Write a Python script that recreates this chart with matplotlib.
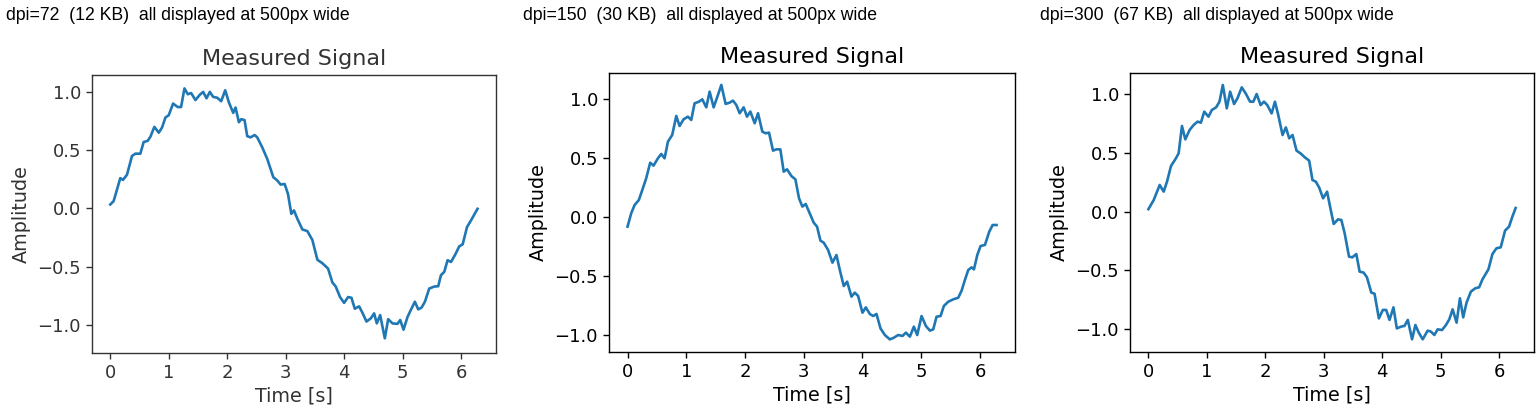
import matplotlib
matplotlib.use("Agg")
import matplotlib.pyplot as plt

# values (same signal saved at three dpi settings)
t_72 = [0.0, 0.057, 0.171, 0.217, 0.286, 0.371, 0.429, 0.514, 0.571, 0.64, 0.686, 0.754, 0.829, 0.886,
        0.943, 1.0, 1.074, 1.154, 1.211, 1.269, 1.326, 1.383, 1.457, 1.531, 1.589, 1.646, 1.703, 1.76,
        1.829, 1.897, 1.966, 2.029, 2.103, 2.143, 2.2, 2.24, 2.297, 2.343, 2.4, 2.469, 2.514, 2.6, 2.686,
        2.789, 2.857, 2.914, 2.983, 3.04, 3.097, 3.143, 3.2, 3.286, 3.371, 3.457, 3.543, 3.629, 3.726,
        3.8, 3.857, 3.931, 4.0, 4.069, 4.126, 4.183, 4.257, 4.314, 4.383, 4.457, 4.514, 4.56, 4.617,
        4.697, 4.754, 4.829, 4.914, 4.96, 5.017, 5.086, 5.143, 5.211, 5.269, 5.326, 5.383, 5.457, 5.543,
        5.611, 5.657, 5.714, 5.771, 5.829, 5.897, 5.971, 6.029, 6.103, 6.171, 6.283]
amp_72 = [0.034, 0.063, 0.26, 0.245, 0.29, 0.45, 0.47, 0.47, 0.57, 0.58, 0.615, 0.70, 0.65, 0.695,
          0.78, 0.80, 0.90, 0.87, 0.87, 1.03, 0.98, 0.99, 0.93, 0.975, 1.0, 0.945, 1.0, 0.957,
          0.95, 0.92, 1.014, 0.91, 0.82, 0.866, 0.74, 0.766, 0.758, 0.62, 0.61, 0.63, 0.61, 0.524, 0.424,
          0.268, 0.24, 0.205, 0.21, 0.125, -0.046, -0.017, -0.088, -0.18, -0.194, -0.27, -0.44, -0.47, -0.516,
          -0.635, -0.67, -0.76, -0.81, -0.76, -0.766, -0.86, -0.84, -0.895, -0.97, -0.943, -0.90, -0.986, -0.915,
          -1.114, -0.95, -0.986, -0.99, -0.957, -1.04, -0.93, -0.87, -0.80, -0.866, -0.85, -0.80, -0.687, -0.67,
          -0.667, -0.573, -0.544, -0.444, -0.459, -0.40, -0.325, -0.308, -0.16, -0.103, -0.003]

t_150 = [0.0, 0.0625, 0.119, 0.193, 0.261, 0.318, 0.386, 0.443, 0.517, 0.574, 0.631, 0.688, 0.761, 0.83,
         0.886, 0.955, 1.028, 1.085, 1.142, 1.216, 1.273, 1.341, 1.398, 1.466, 1.54, 1.597, 1.67, 1.739,
         1.795, 1.852, 1.909, 1.977, 2.034, 2.091, 2.165, 2.222, 2.295, 2.352, 2.409, 2.477, 2.534, 2.602,
         2.659, 2.716, 2.79, 2.858, 2.92, 2.977, 3.034, 3.102, 3.17, 3.227, 3.284, 3.341, 3.415, 3.489,
         3.557, 3.614, 3.682, 3.739, 3.813, 3.869, 3.926, 4.0, 4.057, 4.125, 4.182, 4.239, 4.307, 4.381,
         4.466, 4.534, 4.608, 4.682, 4.739, 4.807, 4.875, 4.932, 5.006, 5.08, 5.148, 5.205, 5.261, 5.33,
         5.386, 5.46, 5.545, 5.631, 5.688, 5.744, 5.801, 5.858, 5.898, 5.955, 6.011, 6.085, 6.159, 6.216, 6.283]
amp_150 = [-0.082, 0.031, 0.10, 0.144, 0.243, 0.328, 0.46, 0.435, 0.497, 0.534, 0.497, 0.638, 0.695, 0.856,
           0.771, 0.828, 0.85, 0.822, 0.963, 0.977, 0.997, 0.929, 1.062, 0.929, 1.034, 1.119, 0.958, 0.969,
           0.986, 0.949, 0.879, 0.929, 0.85, 0.893, 0.794, 0.879, 0.723, 0.709, 0.715, 0.562, 0.573, 0.573,
           0.384, 0.404, 0.347, 0.319, 0.158, 0.088, 0.11, 0.031, -0.048, -0.082, -0.2, -0.218, -0.28, -0.387,
           -0.322, -0.449, -0.585, -0.548, -0.675, -0.641, -0.669, -0.811, -0.766, -0.822, -0.839, -0.822, -0.944, -1.0,
           -1.037, -1.023, -1.0, -1.008, -0.98, -1.014, -0.929, -1.0, -0.839, -0.924, -0.963, -0.952, -0.845, -0.839,
           -0.754, -0.718, -0.698, -0.684, -0.624, -0.534, -0.449, -0.427, -0.444, -0.322, -0.246, -0.237, -0.124, -0.068, -0.068]

t_300 = [0.0, 0.091, 0.193, 0.261, 0.318, 0.386, 0.46, 0.517, 0.574, 0.631, 0.705, 0.773, 0.841, 0.898,
         0.955, 1.028, 1.085, 1.159, 1.216, 1.273, 1.341, 1.398, 1.466, 1.523, 1.597, 1.67, 1.739, 1.795,
         1.852, 1.92, 1.977, 2.034, 2.108, 2.165, 2.222, 2.295, 2.352, 2.409, 2.466, 2.534, 2.602, 2.676,
         2.75, 2.807, 2.864, 2.92, 2.989, 3.057, 3.114, 3.17, 3.244, 3.301, 3.358, 3.432, 3.489, 3.557,
         3.614, 3.682, 3.739, 3.813, 3.869, 3.943, 4.011, 4.068, 4.125, 4.193, 4.25, 4.324, 4.381, 4.438,
         4.511, 4.568, 4.625, 4.693, 4.778, 4.835, 4.892, 4.949, 5.023, 5.091, 5.148, 5.205, 5.273, 5.33,
         5.386, 5.443, 5.517, 5.591, 5.659, 5.716, 5.818, 5.886, 5.955, 6.028, 6.102, 6.17, 6.227, 6.283]
amp_300 = [0.02, 0.098, 0.226, 0.169, 0.254, 0.387, 0.444, 0.495, 0.728, 0.614, 0.694, 0.736, 0.765, 0.756,
           0.85, 0.807, 0.864, 0.887, 0.935, 1.077, 0.878, 1.02, 0.915, 0.963, 1.057, 1.0, 0.935, 0.935,
           1.0, 0.906, 0.935, 0.906, 0.835, 0.935, 0.821, 0.651, 0.716, 0.623, 0.651, 0.518, 0.495, 0.461,
           0.433, 0.268, 0.254, 0.206, 0.112, 0.169, 0.027, -0.106, -0.067, -0.072, -0.186, -0.384, -0.39, -0.362,
           -0.512, -0.52, -0.56, -0.69, -0.70, -0.91, -0.838, -0.838, -0.923, -0.816, -0.995, -0.98, -0.974, -0.923,
           -1.088, -0.966, -1.031, -1.088, -1.014, -1.023, -1.051, -1.003, -1.009, -0.966, -0.918, -0.833, -0.946, -0.739,
           -0.901, -0.776, -0.682, -0.654, -0.645, -0.577, -0.492, -0.362, -0.313, -0.305, -0.163, -0.129, -0.044, 0.03]

headers = ["dpi=72  (12 KB)  all displayed at 500px wide",
           "dpi=150  (30 KB)  all displayed at 500px wide",
           "dpi=300  (67 KB)  all displayed at 500px wide"]

fig = plt.figure(figsize=(15.4, 4.15), dpi=100)

panels = [
    (t_72, amp_72, [0.0597, 0.1494, 0.2623, 0.6699], (-1.24, 1.145), 0.0039, "#333333"),
    (t_150, amp_150, [0.3955, 0.1518, 0.2636, 0.6723], (-1.144, 1.22), 0.3396, "black"),
    (t_300, amp_300, [0.7338, 0.1518, 0.2623, 0.6723], (-1.196, 1.179), 0.6753, "black"),
]

for (t, amp, rect, ylim, hx, tc), head in zip(panels, headers):
    ax = fig.add_axes(rect)
    ax.plot(t, amp, color="#1f77b4", linewidth=1.9)
    ax.set_ylim(*ylim)
    ax.set_title("Measured Signal", fontsize=16, pad=7.5, color=tc)
    ax.set_xlabel("Time [s]", fontsize=13.8, color=tc, labelpad=3)
    ax.set_ylabel("Amplitude", fontsize=13.8, color=tc, labelpad=5)
    ax.tick_params(labelsize=13, length=4.4, width=1.0, colors=tc)
    for s in ax.spines.values():
        s.set_linewidth(1.0)
        s.set_color(tc)
    fig.text(hx, 0.952, head, fontsize=12.7, family="Liberation Sans", va="baseline")

fig.savefig("out.png", dpi=100)
